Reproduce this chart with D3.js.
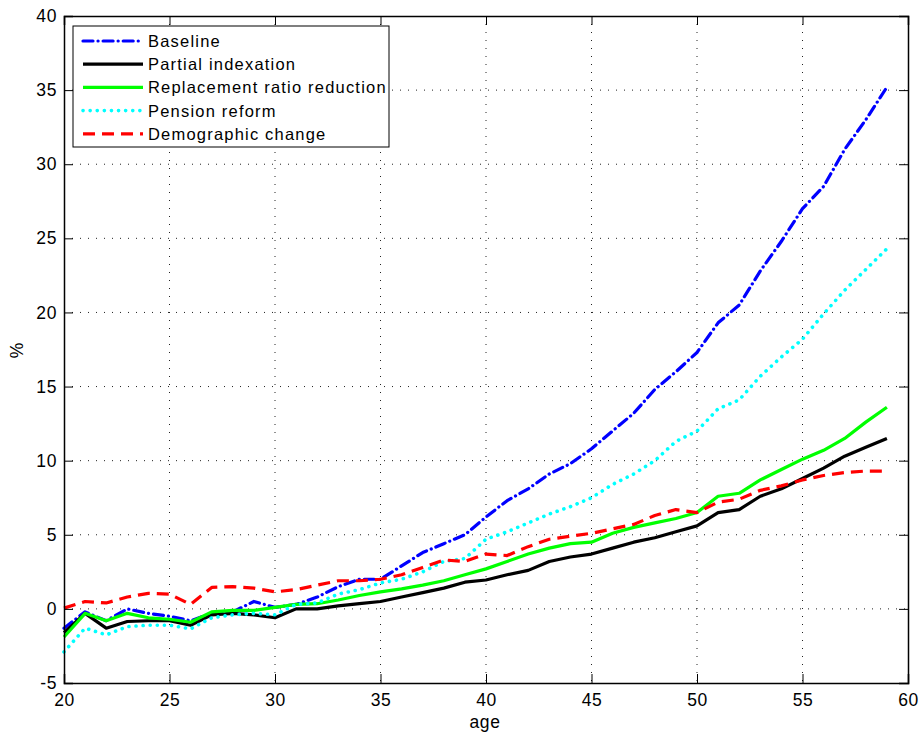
<!DOCTYPE html>
<html>
<head>
<meta charset="utf-8">
<script src="https://cdn.jsdelivr.net/npm/d3@7"></script>
<style>
  body { margin: 0; background: #fff; }
  text { font-family: "Liberation Sans", Arial, sans-serif; fill: #000; }
</style>
</head>
<body>
<div id="chart"></div>
<script>
const ages = d3.range(20, 60);
const baseline = [-1.3, -0.2, -0.8, 0.0, -0.3, -0.5, -0.8, -0.3, -0.2, 0.5, 0.1, 0.3, 0.8, 1.5, 2.0, 2.0, 2.9, 3.8, 4.4, 5.0,
  6.2, 7.3, 8.1, 9.1, 9.8, 10.8, 12.0, 13.2, 14.8, 16.0, 17.3, 19.3, 20.5, 22.8, 24.8, 27.0, 28.5, 31.0, 33.0, 35.2];
const partial = [-1.6, -0.3, -1.3, -0.85, -0.8, -0.8, -1.1, -0.4, -0.3, -0.4, -0.6, 0.0, 0.0, 0.2, 0.35, 0.5, 0.8, 1.1, 1.4, 1.8,
  1.95, 2.3, 2.6, 3.2, 3.5, 3.7, 4.1, 4.5, 4.8, 5.2, 5.6, 6.5, 6.7, 7.6, 8.1, 8.8, 9.5, 10.3, 10.9, 11.5];
const replacement = [-1.9, -0.3, -0.8, -0.3, -0.6, -0.7, -0.9, -0.2, -0.1, -0.1, 0.1, 0.3, 0.35, 0.6, 0.9, 1.15, 1.35, 1.6, 1.9, 2.3,
  2.7, 3.2, 3.7, 4.1, 4.4, 4.5, 5.1, 5.5, 5.8, 6.1, 6.5, 7.6, 7.8, 8.7, 9.4, 10.1, 10.7, 11.5, 12.6, 13.6];
const pension = [-2.9, -1.3, -1.75, -1.2, -1.1, -1.1, -1.35, -0.6, -0.4, -0.3, -0.4, 0.3, 0.4, 1.0, 1.3, 1.75, 2.0, 2.5, 3.2, 3.4,
  4.7, 5.2, 5.8, 6.4, 6.9, 7.5, 8.4, 9.1, 10.0, 11.3, 12.0, 13.5, 14.1, 15.7, 17.0, 18.2, 19.9, 21.5, 22.9, 24.3];
const demographic = [0.05, 0.5, 0.4, 0.8, 1.05, 1.0, 0.3, 1.45, 1.5, 1.4, 1.15, 1.3, 1.6, 1.9, 1.9, 2.0, 2.3, 2.8, 3.3, 3.2,
  3.7, 3.6, 4.2, 4.7, 4.9, 5.1, 5.4, 5.7, 6.3, 6.7, 6.5, 7.2, 7.4, 8.0, 8.3, 8.7, 9.0, 9.2, 9.3, 9.3];
const xTicks = [20, 25, 30, 35, 40, 45, 50, 55, 60];
const yTicks = [-5, 0, 5, 10, 15, 20, 25, 30, 35, 40];
const seriesNames = ["Baseline", "Partial indexation", "Replacement ratio reduction", "Pension reform", "Demographic change"];

const series = [
  { name: seriesNames[0], values: baseline, color: "#0000ff", dash: "10,5,0.1,5", cap: "round" },
  { name: seriesNames[1], values: partial, color: "#000000", dash: null, cap: "butt" },
  { name: seriesNames[2], values: replacement, color: "#00ff00", dash: null, cap: "butt" },
  { name: seriesNames[3], values: pension, color: "#00ffff", dash: "0.1,7", cap: "round" },
  { name: seriesNames[4], values: demographic, color: "#ff0000", dash: "12,7", cap: "butt" }
];

const W = 919, H = 732;
const m = { left: 64, right: 11, top: 16, bottom: 49 };
const iw = W - m.left - m.right, ih = H - m.top - m.bottom;

const svg = d3.select("#chart").append("svg").attr("width", W).attr("height", H);
const g = svg.append("g").attr("transform", `translate(${m.left},${m.top})`);

const x = d3.scaleLinear().domain([20, 60]).range([0, iw]);
const y = d3.scaleLinear().domain([-5, 40]).range([ih, 0]);

// grid
g.append("g").selectAll("line").data(xTicks.slice(1, -1)).join("line")
  .attr("x1", d => x(d)).attr("x2", d => x(d)).attr("y1", 0).attr("y2", ih)
  .attr("stroke", "#222").attr("stroke-width", 1).attr("stroke-dasharray", "1,7");
g.append("g").selectAll("line").data(yTicks.slice(1, -1)).join("line")
  .attr("y1", d => y(d)).attr("y2", d => y(d)).attr("x1", 0).attr("x2", iw)
  .attr("stroke", "#222").attr("stroke-width", 1).attr("stroke-dasharray", "1,7");

// lines
const line = d3.line().x((d, i) => x(ages[i])).y(d => y(d));
series.forEach(s => {
  g.append("path").datum(s.values)
    .attr("d", line)
    .attr("fill", "none")
    .attr("stroke", s.color)
    .attr("stroke-width", s.dash === "0.1,7" ? 3.6 : 3.2)
    .attr("stroke-linecap", s.cap)
    .attr("stroke-linejoin", "round")
    .attr("stroke-dasharray", s.dash);
});

// axes (matlab-style inward ticks on all sides), plain hyphen for negatives
const fmt = d => String(d);
const xAxis = g.append("g").attr("transform", `translate(0,${ih})`)
  .call(d3.axisBottom(x).tickValues(xTicks).tickSize(-9).tickPadding(11).tickFormat(fmt));
const xAxisTop = g.append("g")
  .call(d3.axisTop(x).tickValues(xTicks).tickSize(-9).tickFormat(""));
const yAxis = g.append("g")
  .call(d3.axisLeft(y).tickValues(yTicks).tickSize(-9).tickPadding(7).tickFormat(fmt));
const yAxisRight = g.append("g").attr("transform", `translate(${iw},0)`)
  .call(d3.axisRight(y).tickValues(yTicks).tickSize(-9).tickFormat(""));
[xAxis, xAxisTop, yAxis, yAxisRight].forEach(a => {
  a.select(".domain").attr("stroke", "#000").attr("stroke-width", 1.5);
  a.selectAll(".tick line").attr("stroke", "#000");
  a.selectAll(".tick text").attr("font-size", 17.5).attr("letter-spacing", 0.6)
    .attr("font-family", "Liberation Sans, Arial, sans-serif");
});

svg.append("text").attr("x", m.left + iw / 2 - 1).attr("y", 728)
  .attr("text-anchor", "middle").attr("font-size", 17.5).attr("letter-spacing", 0.6).text("age");
svg.append("text").attr("transform", `translate(23,${m.top + ih / 2 + 1}) rotate(-90)`)
  .attr("text-anchor", "middle").attr("font-size", 17.5).text("%");

// legend
const lg = svg.append("g").attr("transform", "translate(73,26)");
lg.append("rect").attr("width", 316).attr("height", 121)
  .attr("fill", "#fff").attr("stroke", "#000").attr("stroke-width", 1);
series.forEach((s, i) => {
  const yy = 15 + i * 23.2;
  lg.append("line").attr("x1", 10).attr("x2", 70).attr("y1", yy).attr("y2", yy)
    .attr("stroke", s.color)
    .attr("stroke-width", s.dash === "0.1,7" ? 3.6 : 3.2)
    .attr("stroke-linecap", s.cap)
    .attr("stroke-dasharray", s.dash);
  lg.append("text").attr("x", 75).attr("y", yy + 6).attr("font-size", 16.5)
    .attr("letter-spacing", 1.2).text(s.name);
});
</script>
</body>
</html>
